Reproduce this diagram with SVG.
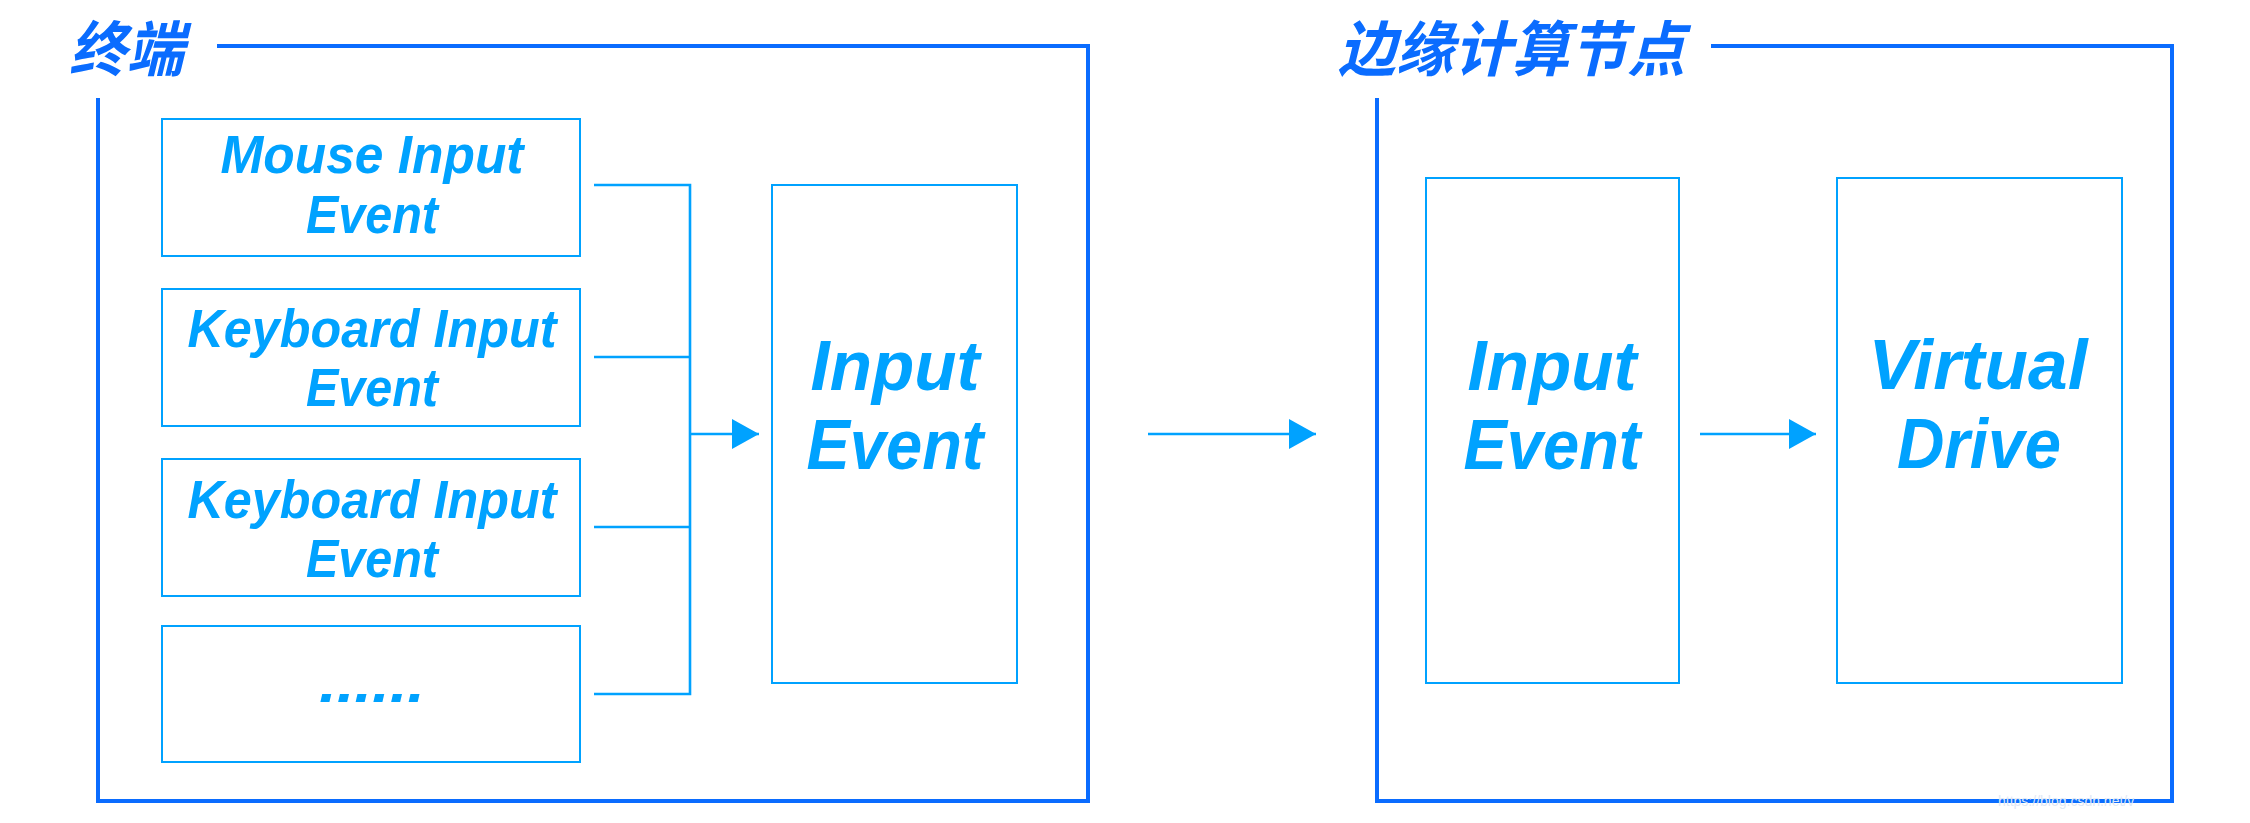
<svg xmlns="http://www.w3.org/2000/svg" width="2250" height="823" viewBox="0 0 2250 823">
<defs>
<style>
.frame{fill:none;stroke:#0a6cff;stroke-width:4}
.box{fill:none;stroke:#00a2ff;stroke-width:2}
.conn{fill:none;stroke:#00a2ff;stroke-width:2.6}
.title{font-family:"Noto Sans CJK SC","Noto Sans CJK JP",sans-serif;font-weight:700;font-style:italic;font-size:60px;fill:#0a6cff}
.sm{font-family:"Liberation Sans",Arial,sans-serif;font-weight:700;font-style:italic;font-size:53px;fill:#00a2ff;text-anchor:middle}
.lg{font-family:"Liberation Sans",Arial,sans-serif;font-weight:700;font-style:italic;font-size:71px;fill:#00a2ff;text-anchor:middle}
.wm{font-family:"Liberation Sans",Arial,sans-serif;font-size:14px;fill:#dfe8f5}
</style>
<marker id="ah" viewBox="0 0 27 30" refX="27" refY="15" markerWidth="27" markerHeight="30" markerUnits="userSpaceOnUse" orient="auto">
<path d="M0,0 L27,15 L0,30 Z" fill="#00a2ff"/>
</marker>
</defs>
<rect width="2250" height="823" fill="#ffffff"/>

<g id="terminal-frame">
<path class="frame" d="M217,46 H1088 V801 H98 V98"/>
<text class="title" x="69" y="71" textLength="115" lengthAdjust="spacingAndGlyphs">终端</text>
</g>

<g id="edge-frame">
<path class="frame" d="M1711,46 H2172 V801 H1377 V98"/>
<text class="title" x="1338" y="71" textLength="347" lengthAdjust="spacingAndGlyphs">边缘计算节点</text>
</g>

<g id="mouse-input">
<rect class="box" x="162" y="119" width="418" height="137"/>
<text class="sm" x="372" y="173" textLength="303" lengthAdjust="spacingAndGlyphs">Mouse Input</text>
<text class="sm" x="372" y="233" textLength="132" lengthAdjust="spacingAndGlyphs">Event</text>
</g>

<g id="keyboard-input-1">
<rect class="box" x="162" y="289" width="418" height="137"/>
<text class="sm" x="372" y="347" textLength="369" lengthAdjust="spacingAndGlyphs">Keyboard Input</text>
<text class="sm" x="372" y="406" textLength="132" lengthAdjust="spacingAndGlyphs">Event</text>
</g>

<g id="keyboard-input-2">
<rect class="box" x="162" y="459" width="418" height="137"/>
<text class="sm" x="372" y="518" textLength="369" lengthAdjust="spacingAndGlyphs">Keyboard Input</text>
<text class="sm" x="372" y="577" textLength="132" lengthAdjust="spacingAndGlyphs">Event</text>
</g>

<g id="more-input">
<rect class="box" x="162" y="626" width="418" height="136"/>
<text class="sm" x="372" y="702" textLength="106" lengthAdjust="spacingAndGlyphs">......</text>
</g>

<g id="input-event-terminal">
<rect class="box" x="772" y="185" width="245" height="498"/>
<text class="lg" x="895" y="390" textLength="169" lengthAdjust="spacingAndGlyphs">Input</text>
<text class="lg" x="895" y="469" textLength="177" lengthAdjust="spacingAndGlyphs">Event</text>
</g>

<g id="input-event-edge">
<rect class="box" x="1426" y="178" width="253" height="505"/>
<text class="lg" x="1552" y="390" textLength="169" lengthAdjust="spacingAndGlyphs">Input</text>
<text class="lg" x="1552" y="469" textLength="177" lengthAdjust="spacingAndGlyphs">Event</text>
</g>

<g id="virtual-drive">
<rect class="box" x="1837" y="178" width="285" height="505"/>
<text class="lg" x="1978" y="389" textLength="219" lengthAdjust="spacingAndGlyphs">Virtual</text>
<text class="lg" x="1979" y="468" textLength="164" lengthAdjust="spacingAndGlyphs">Drive</text>
</g>

<g id="connectors">
<path class="conn" d="M594,185 H690 V694 H594"/>
<path class="conn" d="M594,357 H690"/>
<path class="conn" d="M594,527 H690"/>
<path class="conn" d="M690,434 H759" marker-end="url(#ah)"/>
<path class="conn" d="M1148,434 H1316" marker-end="url(#ah)"/>
<path class="conn" d="M1700,434 H1816" marker-end="url(#ah)"/>
</g>

<text class="wm" x="1998" y="806">https://blog.csdn.net/v</text>
</svg>
